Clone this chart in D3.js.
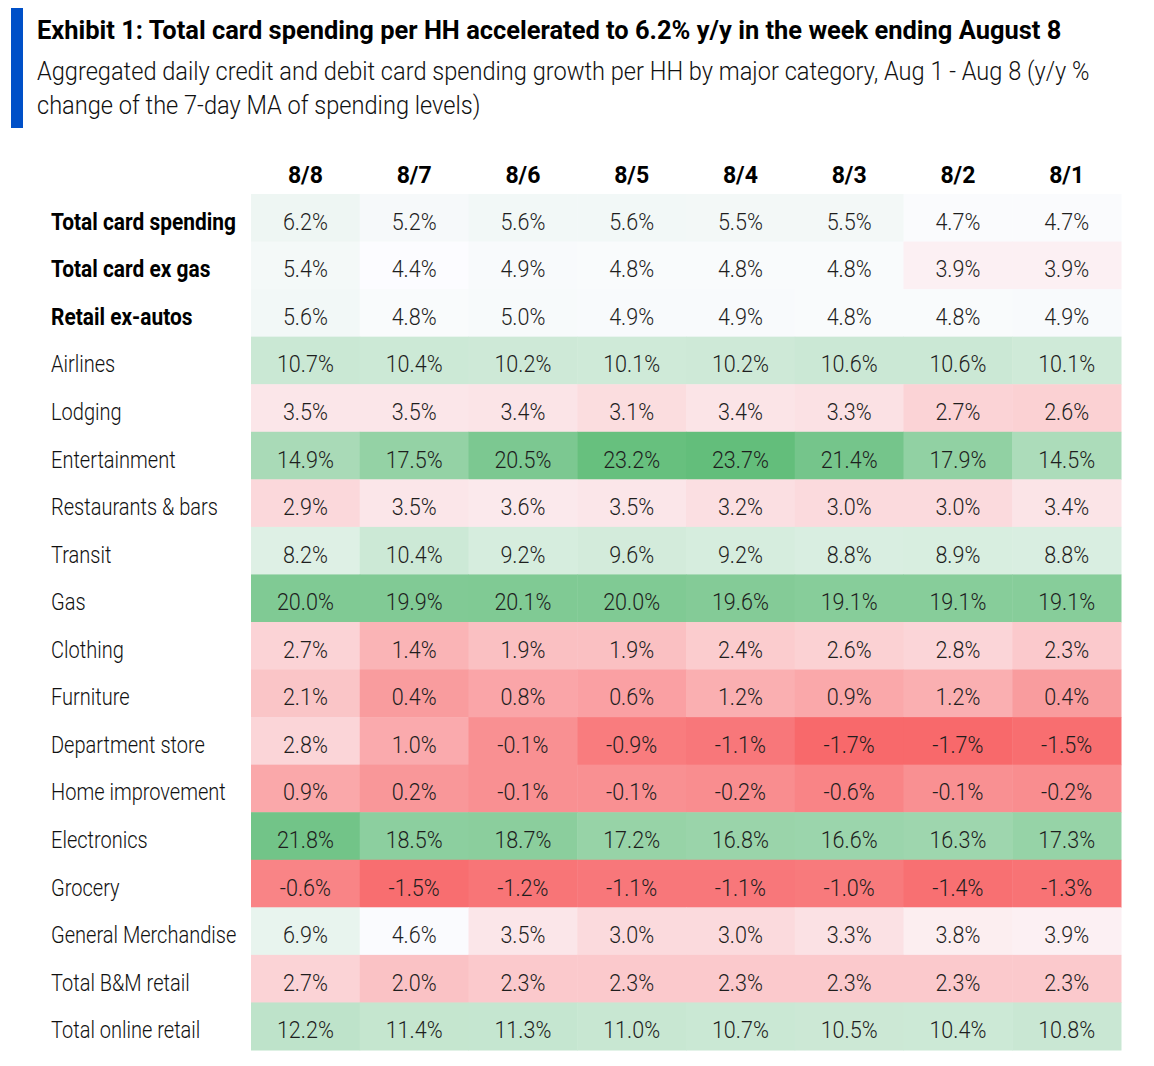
<!DOCTYPE html>
<html>
<head>
<meta charset="utf-8">
<script src="https://cdn.jsdelivr.net/npm/d3@7"></script>
<style>
  body { margin: 0; background: #fff; }
  svg { display: block; }
</style>
</head>
<body>
<svg id="chart" width="1154" height="1066"></svg>
<script>
// Column headers (dates), newest first
const dates = ["8/8", "8/7", "8/6", "8/5", "8/4", "8/3", "8/2", "8/1"];

// Row categories, first three are shown in bold
const categories = [
  "Total card spending", "Total card ex gas", "Retail ex-autos", "Airlines", "Lodging",
  "Entertainment", "Restaurants & bars", "Transit", "Gas", "Clothing", "Furniture",
  "Department store", "Home improvement", "Electronics", "Grocery",
  "General Merchandise", "Total B&M retail", "Total online retail"
];
const boldRows = ["Total card spending", "Total card ex gas", "Retail ex-autos"];

// y/y % growth, one array per category, in the same order as dates
const totalCard      = [6.2, 5.2, 5.6, 5.6, 5.5, 5.5, 4.7, 4.7];
const totalExGas     = [5.4, 4.4, 4.9, 4.8, 4.8, 4.8, 3.9, 3.9];
const retailExAutos  = [5.6, 4.8, 5.0, 4.9, 4.9, 4.8, 4.8, 4.9];
const airlines       = [10.7, 10.4, 10.2, 10.1, 10.2, 10.6, 10.6, 10.1];
const lodging        = [3.5, 3.5, 3.4, 3.1, 3.4, 3.3, 2.7, 2.6];
const entertainment  = [14.9, 17.5, 20.5, 23.2, 23.7, 21.4, 17.9, 14.5];
const restaurants    = [2.9, 3.5, 3.6, 3.5, 3.2, 3.0, 3.0, 3.4];
const transit        = [8.2, 10.4, 9.2, 9.6, 9.2, 8.8, 8.9, 8.8];
const gas            = [20.0, 19.9, 20.1, 20.0, 19.6, 19.1, 19.1, 19.1];
const clothing       = [2.7, 1.4, 1.9, 1.9, 2.4, 2.6, 2.8, 2.3];
const furniture      = [2.1, 0.4, 0.8, 0.6, 1.2, 0.9, 1.2, 0.4];
const deptStore      = [2.8, 1.0, -0.1, -0.9, -1.1, -1.7, -1.7, -1.5];
const homeImprove    = [0.9, 0.2, -0.1, -0.1, -0.2, -0.6, -0.1, -0.2];
const electronics    = [21.8, 18.5, 18.7, 17.2, 16.8, 16.6, 16.3, 17.3];
const grocery        = [-0.6, -1.5, -1.2, -1.1, -1.1, -1.0, -1.4, -1.3];
const generalMerch   = [6.9, 4.6, 3.5, 3.0, 3.0, 3.3, 3.8, 3.9];
const totalBM        = [2.7, 2.0, 2.3, 2.3, 2.3, 2.3, 2.3, 2.3];
const totalOnline    = [12.2, 11.4, 11.3, 11.0, 10.7, 10.5, 10.4, 10.8];

const rowValues = [
  totalCard, totalExGas, retailExAutos, airlines, lodging, entertainment, restaurants,
  transit, gas, clothing, furniture, deptStore, homeImprove, electronics, grocery,
  generalMerch, totalBM, totalOnline
];

const titleText = "Exhibit 1: Total card spending per HH accelerated to 6.2% y/y in the week ending August 8";
const subtitleLines = [
  "Aggregated daily credit and debit card spending growth per HH by major category, Aug 1 - Aug 8 (y/y %",
  "change of the 7-day MA of spending levels)"
];

const FONT = "Roboto, 'Open Sans', 'DejaVu Sans', sans-serif";

const svg = d3.select("#chart");

// Measure a string in the fallback font, used to squeeze text to the narrow look of the original
function measure(str, size, weight)
{
  const t = svg.append("text")
    .attr("font-family", FONT)
    .attr("font-size", size + "px")
    .attr("font-weight", weight)
    .text(str);
  const w = t.node().getComputedTextLength();
  t.remove();
  return w;
}

// Horizontal squeeze factors, from widths
const kTitle = 1025 / measure(titleText, 26, "bold");
const kSub = 1053 / measure(subtitleLines[0], 25, "300");
const kCell = 57 / measure("14.9%", 24, "300");
const kHead = 35 / measure("8/8", 24, "bold");
const kLabel = 167 / measure("Restaurants & bars", 24, "300");
const kLabelBold = 185 / measure("Total card spending", 24, "bold");

function addText(parent, str, x, y, k, opts)
{
  return parent.append("text")
    .attr("transform", `translate(${ x }, ${ y }) scale(${ k }, 1)`)
    .attr("text-anchor", opts.anchor || "start")
    .attr("font-family", FONT)
    .attr("font-size", opts.size + "px")
    .attr("font-weight", opts.weight || "300")
    .attr("fill", opts.fill || "#000")
    .text(str);
}

// Blue accent bar next to the heading
svg.append("rect")
  .attr("x", 11).attr("y", 8)
  .attr("width", 12).attr("height", 120)
  .attr("fill", "#0050C8");

addText(svg, titleText, 37, 39, kTitle, { size: 26, weight: "bold", fill: "#000" });
addText(svg, subtitleLines[0], 37, 80, kSub, { size: 25, fill: "#111" });
addText(svg, subtitleLines[1], 37, 114, kSub, { size: 25, fill: "#111" });

// Table geometry
const margin = { left: 251, top: 194 };
const tableWidth = 870;
const tableHeight = 856;

const x = d3.scaleBand()
  .domain(dates)
  .range([margin.left, margin.left + tableWidth]);

const y = d3.scaleBand()
  .domain(categories)
  .range([margin.top, margin.top + tableHeight]);

// 3-colour scale: red (low) -> white (mid) -> green (high)
const allValues = rowValues.flat();
const colour = d3.scaleLinear()
  .domain([d3.min(allValues), 4.4, d3.max(allValues)])
  .range(["#F8696B", "#FCFCFF", "#63BE7B"]);

// Cells
const cells = [];
categories.forEach((cat, r) =>
{
  dates.forEach((dt, c) =>
  {
    cells.push({ category: cat, date: dt, value: rowValues[r][c] });
  });
});

svg.append("g")
  .selectAll("rect")
  .data(cells)
  .enter()
  .append("rect")
  .attr("x", d => x(d.date))
  .attr("y", d => y(d.category))
  .attr("width", x.bandwidth() + 0.5)
  .attr("height", y.bandwidth() + 0.5)
  .attr("fill", d => colour(d.value));

const textDy = 12;

const cellText = svg.append("g");
cells.forEach(d =>
{
  addText(cellText, d.value.toFixed(1) + "%",
    x(d.date) + x.bandwidth() / 2, y(d.category) + y.bandwidth() / 2 + textDy,
    kCell, { size: 24, anchor: "middle", fill: "#1e1e1e" });
});

// Column headers
const headText = svg.append("g");
dates.forEach(d =>
{
  addText(headText, d, x(d) + x.bandwidth() / 2, 183, kHead,
    { size: 24, weight: "bold", anchor: "middle", fill: "#000" });
});

// Row labels
const labelText = svg.append("g");
categories.forEach(d =>
{
  const bold = boldRows.includes(d);
  addText(labelText, d, 51, y(d) + y.bandwidth() / 2 + textDy, bold ? kLabelBold : kLabel,
    { size: 24, weight: bold ? "bold" : "300", fill: bold ? "#000" : "#111" });
});
</script>
</body>
</html>
